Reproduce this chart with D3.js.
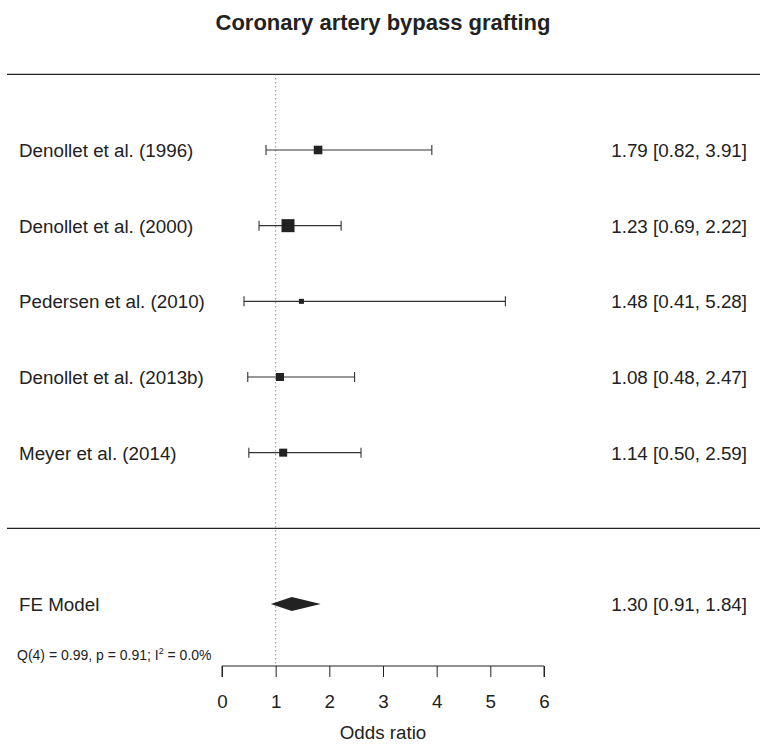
<!DOCTYPE html>
<html lang="en">
<head>
    <meta charset="UTF-8">
    <title>Coronary artery bypass grafting</title>
    <script src="https://cdn.jsdelivr.net/npm/d3@7"></script>
    <style>
        body { margin: 0; background: #fff; }
        text { font-family: "Liberation Sans", Arial, Helvetica, sans-serif; fill: #222; }
    </style>
</head>
<body>
<script>
    // data
    const studies  = ["Denollet et al. (1996)", "Denollet et al. (2000)", "Pedersen et al. (2010)",
                      "Denollet et al. (2013b)", "Meyer et al. (2014)"];
    const estimate = [1.79, 1.23, 1.48, 1.08, 1.14];
    const lower    = [0.82, 0.69, 0.41, 0.48, 0.50];
    const upper    = [3.91, 2.22, 5.28, 2.47, 2.59];
    const weight   = [20.2, 35.9, 7.5, 18.3, 18.2];   // % weights (square size)
    const model    = { label: "FE Model", est: 1.30, lo: 0.91, hi: 1.84 };
    const hetText  = ["Q(4) = 0.99, p = 0.91; I", "2", " = 0.0%"];
    const xTicks   = [0, 1, 2, 3, 4, 5, 6];

    const W = 760, H = 749;
    const FS = "18.8px";
    const svg = d3.select("body").append("svg").attr("width", W).attr("height", H);

    const x = d3.scaleLinear().domain([0, 6]).range([222, 544]);
    // metafor style rows: studies k..1, separator 0, model -1
    const k = studies.length;
    const y = d3.scaleLinear().domain([k, -1]).range([150, 604]);
    const size = d3.scaleLinear().domain(d3.extent(weight)).range([5, 13]);
    const fmt = d3.format(".2f");

    // title
    svg.append("text").attr("x", 383).attr("y", 30).attr("text-anchor", "middle")
       .style("font-size", "22px").style("font-weight", "bold").text("Coronary artery bypass grafting");

    // horizontal separators
    [k + 1, 0].forEach(r => {
        svg.append("line").attr("x1", 7).attr("x2", 760).attr("y1", y(r)).attr("y2", y(r))
           .attr("stroke", "#222").attr("stroke-width", 1.3);
    });

    const axisY = 666;
    // reference line at 1
    svg.append("line").attr("x1", x(1)).attr("x2", x(1)).attr("y1", y(k + 1)).attr("y2", axisY)
       .attr("stroke", "#555").attr("stroke-width", 1).attr("stroke-dasharray", "1,3");

    // study rows
    const rows = svg.selectAll("g.row").data(studies).enter().append("g").attr("class", "row")
        .attr("transform", (d, i) => `translate(0,${y(k - i)})`);

    rows.append("line").attr("x1", (d, i) => x(lower[i])).attr("x2", (d, i) => x(upper[i]))
        .attr("stroke", "#333").attr("stroke-width", 1.1);
    rows.append("line").attr("x1", (d, i) => x(lower[i])).attr("x2", (d, i) => x(lower[i]))
        .attr("y1", -5).attr("y2", 5).attr("stroke", "#333").attr("stroke-width", 1.1);
    rows.append("line").attr("x1", (d, i) => x(upper[i])).attr("x2", (d, i) => x(upper[i]))
        .attr("y1", -5).attr("y2", 5).attr("stroke", "#333").attr("stroke-width", 1.1);
    rows.append("rect")
        .attr("x", (d, i) => x(estimate[i]) - size(weight[i]) / 2)
        .attr("y", (d, i) => -size(weight[i]) / 2)
        .attr("width", (d, i) => size(weight[i])).attr("height", (d, i) => size(weight[i]))
        .attr("fill", "#222");
    rows.append("text").attr("x", 19).attr("y", 7).style("font-size", FS).text(d => d);
    rows.append("text").attr("x", 747).attr("y", 7).attr("text-anchor", "end").style("font-size", FS)
        .text((d, i) => `${fmt(estimate[i])} [${fmt(lower[i])}, ${fmt(upper[i])}]`);

    // summary diamond
    const my = y(-1);
    svg.append("polygon")
       .attr("points", [[x(model.lo), my], [x(model.est), my - 7], [x(model.hi), my], [x(model.est), my + 7]].join(" "))
       .attr("fill", "#222");
    svg.append("text").attr("x", 19).attr("y", my + 7).style("font-size", FS).text(model.label);
    svg.append("text").attr("x", 747).attr("y", my + 7).attr("text-anchor", "end").style("font-size", FS)
       .text(`${fmt(model.est)} [${fmt(model.lo)}, ${fmt(model.hi)}]`);

    // heterogeneity text
    const het = svg.append("text").attr("x", 17).attr("y", 660).style("font-size", "14px");
    het.append("tspan").text(hetText[0]);
    het.append("tspan").attr("dy", -6).style("font-size", "9px").text(hetText[1]);
    het.append("tspan").attr("dy", 6).text(hetText[2]);

    // x axis
    const axis = d3.axisBottom(x).tickValues(xTicks).tickFormat(d3.format("d")).tickSize(11).tickPadding(18);
    const gx = svg.append("g").attr("transform", `translate(0,${axisY})`).call(axis);
    gx.select(".domain").attr("stroke", "#222").attr("d", `M${x(0)},11V0H${x(6)}V11`);
    gx.selectAll(".tick line").attr("stroke", "#222");
    gx.selectAll(".tick text").style("font-size", FS).attr("fill", "#222")
      .style("font-family", "'Liberation Sans', Arial, sans-serif");

    svg.append("text").attr("x", x(3)).attr("y", 739).attr("text-anchor", "middle")
       .style("font-size", FS).text("Odds ratio");
</script>
</body>
</html>
